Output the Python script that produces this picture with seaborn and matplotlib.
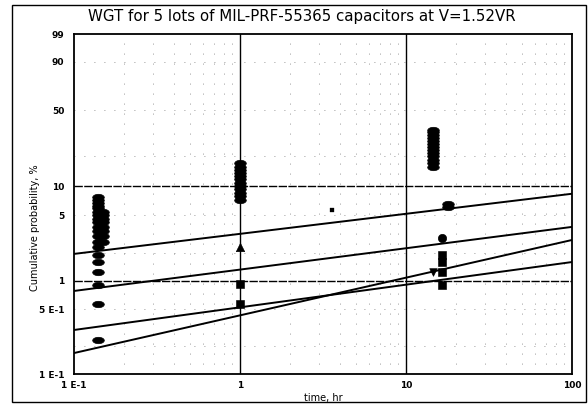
import numpy as np
import pandas as pd
import matplotlib
matplotlib.use("Agg")
import matplotlib.pyplot as plt
import seaborn as sns
from matplotlib.path import Path
from matplotlib.patches import Rectangle
from matplotlib.transforms import Affine2D

# ---- failure data: test time (hr) and cumulative probability (%) ----
t_lot_a = 0.14
p_lot_a = [0.23, 0.57, 0.91, 1.25, 1.6, 1.9, 2.3, 2.6, 3.0, 3.4, 3.8, 4.2,
           4.6, 5.0, 5.4, 5.9, 6.3, 6.8, 7.3, 7.8]
t_lot_b = 0.15
p_lot_b = [2.6, 3.0, 3.4, 3.8, 4.2, 4.6, 5.0, 5.4]
t_lot_c = 1.0
p_lot_c = [7.2, 7.9, 8.6, 9.3, 10.1, 10.9, 11.8, 12.7, 13.7, 14.7, 15.8, 17.0]
t_lot_d = 14.6
p_lot_d = [15.7, 17.0, 18.4, 19.8, 21.3, 22.8, 24.4, 26.0, 27.7, 29.4, 31.2,
           33.0, 34.7]
t_lot_e = 17.9
p_lot_e = [6.1, 6.5]

t_squares = [1.0, 1.0, 16.5, 16.5, 16.5, 16.5]
p_squares = [0.56, 0.93, 0.91, 1.24, 1.6, 1.9]
t_small = [3.6]
p_small = [5.7]
t_tri_up = [1.0]
p_tri_up = [2.3]
t_tri_down = [14.6]
p_tri_down = [1.25]
t_circle = [16.5]
p_circle = [2.9]

# Weibull fits: shape (beta) and scale (eta, hr)
fit_beta = [0.216, 0.230, 0.244, 0.406]
fit_eta = [7.9e6, 1.42e8, 2.24e9, 6.8e5]

# axis ticks
x_ticks = [0.1, 1, 10, 100]
x_tick_labels = ["1 E-1", "1", "10", "100"]
y_ticks = [0.1, 0.5, 1, 5, 10, 50, 90, 99]
y_tick_labels = ["1 E-1", "5 E-1", "1", "5", "10", "50", "90", "99"]

title = "WGT for 5 lots of MIL-PRF-55365 capacitors at V=1.52VR"


# ---- Weibull probability scale ----
def weib_fwd(p):
    p = np.clip(np.asarray(p, dtype=float), 1e-6, 99.9999)
    return np.log(-np.log(1.0 - p / 100.0))


def weib_inv(w):
    w = np.asarray(w, dtype=float)
    return 100.0 * (1.0 - np.exp(-np.exp(w)))


def weib_cdf(t, beta, eta):
    return 100.0 * (1.0 - np.exp(-(t / eta) ** beta))


# oval marker
oval = Path.unit_circle().transformed(Affine2D().scale(1.0, 0.55))

sns.set_style("white")
plt.rcParams["font.family"] = ["DejaVu Sans"]
plt.rcParams["text.color"] = "black"
plt.rcParams["axes.labelcolor"] = "black"

fig = plt.figure(figsize=(5.88, 4.07), dpi=100)
ax = fig.add_axes([74 / 588, 1 - 374 / 407, 498 / 588, 340 / 407])
ax.set_xscale("log")
ax.set_yscale("function", functions=(weib_fwd, weib_inv))
ax.set_xlim(0.1, 100)
ax.set_ylim(0.1, 99)

# grid
minor_x = [0.2, 0.3, 0.4, 0.5, 0.6, 0.7, 0.8, 0.9, 2, 3, 4, 5, 6, 7, 8, 9,
           20, 30, 40, 50, 60, 70, 80, 90]
minor_y = [0.2, 0.5, 2, 5, 20, 50, 90]
for xv in minor_x:
    ax.axvline(xv, color="#777777", lw=0.6, ls=(0, (1, 11)), zorder=0)
for yv in minor_y:
    ax.axhline(yv, color="#777777", lw=0.6, ls=(0, (1, 11)), zorder=0)
for xv in [1, 10]:
    ax.axvline(xv, color="black", lw=1.0, zorder=1)
for yv in [1, 10]:
    ax.axhline(yv, color="black", lw=1.0, ls=(0, (6, 1)), zorder=1)

# fitted lines
t_line = np.logspace(-1, 2, 60)
for b, e in zip(fit_beta, fit_eta):
    df = pd.DataFrame({"t": t_line, "p": weib_cdf(t_line, b, e)})
    sns.lineplot(data=df, x="t", y="p", ax=ax, color="black", lw=1.4,
                 zorder=3)

# data points
ovals = pd.DataFrame({
    "t": [t_lot_a] * len(p_lot_a) + [t_lot_b] * len(p_lot_b)
         + [t_lot_c] * len(p_lot_c) + [t_lot_d] * len(p_lot_d)
         + [t_lot_e] * len(p_lot_e),
    "p": p_lot_a + p_lot_b + p_lot_c + p_lot_d + p_lot_e,
})
sns.scatterplot(data=ovals, x="t", y="p", ax=ax, marker=oval, s=70,
                color="black", edgecolor="black", linewidth=0.5, zorder=4)
sns.scatterplot(x=t_squares, y=p_squares, ax=ax, marker="s", s=28,
                color="black", edgecolor="black", zorder=4)
sns.scatterplot(x=t_small, y=p_small, ax=ax, marker="s", s=8,
                color="black", edgecolor="black", zorder=4)
sns.scatterplot(x=t_tri_up, y=p_tri_up, ax=ax, marker="^", s=36,
                color="black", edgecolor="black", zorder=4)
sns.scatterplot(x=t_tri_down, y=p_tri_down, ax=ax, marker="v", s=30,
                color="black", edgecolor="black", zorder=4)
sns.scatterplot(x=t_circle, y=p_circle, ax=ax, marker="o", s=36,
                color="black", edgecolor="black", zorder=4)

# axes styling
ax.set_xticks(x_ticks)
ax.set_xticklabels(x_tick_labels)
ax.set_xticks([], minor=True)
ax.set_yticks(y_ticks)
ax.set_yticklabels(y_tick_labels)
ax.set_yticks([], minor=True)
ax.tick_params(axis="both", labelsize=6.5, length=2, width=0.8,
               colors="black", pad=3)
ax.tick_params(axis="y", pad=5)
for lbl in ax.get_xticklabels() + ax.get_yticklabels():
    lbl.set_fontweight("bold")
for s in ax.spines.values():
    s.set_color("black")
    s.set_linewidth(1.3)

ax.set_xlabel("time, hr", fontsize=7, labelpad=2, color="black")
ax.set_ylabel("Cumulative probability, %", fontsize=7, color="black")
ax.yaxis.set_label_coords(-0.068, 0.43)
fig.text(302 / 588, 1 - 17 / 407, title, fontsize=10.8, color="black",
         ha="center", va="center")

fig.add_artist(Rectangle((12 / 588, 1 - 402 / 407), 574 / 588, 397 / 407,
                         transform=fig.transFigure, fill=False,
                         edgecolor="black", lw=1.0))

fig.savefig("out.png", dpi=100)
